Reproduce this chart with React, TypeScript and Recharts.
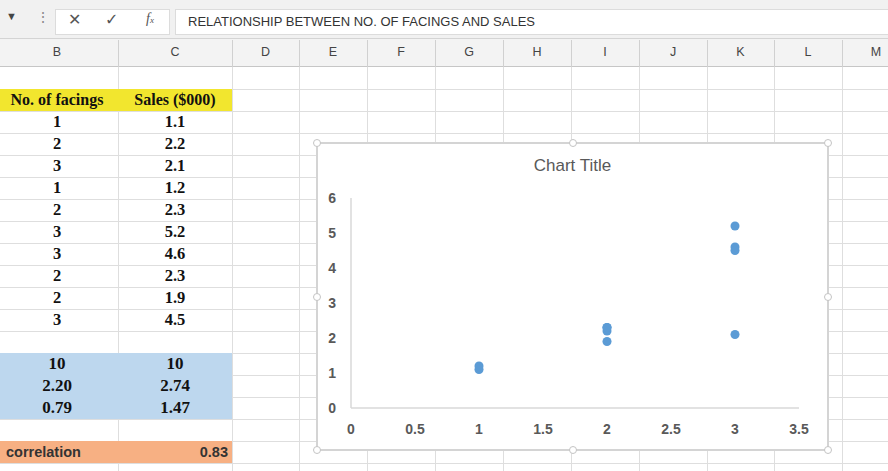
import React from "react";
import { ScatterChart, Scatter, XAxis, YAxis, ZAxis } from "recharts";

const facings = [1, 2, 3, 1, 2, 3, 3, 2, 2, 3];
const sales = [1.1, 2.2, 2.1, 1.2, 2.3, 5.2, 4.6, 2.3, 1.9, 4.5];
const summaryFacings = ["10", "2.20", "0.79"];
const summarySales = ["10", "2.74", "1.47"];
const correlationLabel = "correlation";
const correlationValue = "0.83";
const formulaText = "RELATIONSHIP BETWEEN NO. OF FACINGS AND SALES";
const columnLetters = ["B", "C", "D", "E", "F", "G", "H", "I", "J", "K", "L", "M"];
const xTicks = [0, 0.5, 1, 1.5, 2, 2.5, 3, 3.5];
const yTicks = [0, 1, 2, 3, 4, 5, 6];
const chartTitle = "Chart Title";

const colBounds = [-4, 118, 232, 299, 367, 435, 503, 571, 639, 707, 774, 842, 910];
const rowTop0 = 67;
const rowH = 22;
const gridColor = "#dedede";
const serif = "'Liberation Serif', 'Times New Roman', serif";
const sans = "'Liberation Sans', Arial, sans-serif";

const points = facings.map((f, i) => ({ x: f, y: sales[i] }));

function Cell({ row, col, text, align = "center", font = serif, weight = "bold", size = 16.5, color = "#111" }: any) {
  const left = colBounds[col];
  const right = colBounds[col + 1];
  const padL = align === "left" ? 10 : 0;
  const padR = align === "right" ? 4 : 0;
  return (
    <div
      style={{
        position: "absolute",
        left: left + padL,
        width: right - left - padL - padR,
        top: rowTop0 + row * rowH,
        height: rowH,
        lineHeight: rowH + "px",
        textAlign: align,
        fontFamily: font,
        fontWeight: weight,
        fontSize: size,
        color,
        whiteSpace: "nowrap",
      }}
    >
      {text}
    </div>
  );
}

export default function App() {
  const handles = [
    [317, 143], [573, 143], [828, 143],
    [317, 297], [828, 297],
    [317, 450], [573, 450], [828, 450],
  ];
  return (
    <div style={{ position: "absolute", left: 0, top: 0, width: 888, height: 471, overflow: "hidden", background: "#fff" }}>
      {/* formula bar */}
      <div style={{ position: "absolute", left: 0, top: 0, width: 888, height: 38, background: "#f1f1f1" }} />
      <div style={{ position: "absolute", left: 6, top: 10, fontFamily: sans, fontSize: 11, color: "#444" }}>▼</div>
      <div style={{ position: "absolute", left: 36, top: 9, fontFamily: sans, fontSize: 14, color: "#888" }}>⋮</div>
      <div style={{ position: "absolute", left: 55, top: 9, width: 115, height: 26, background: "#fff", border: "1px solid #dcdcdc", boxSizing: "border-box" }} />
      <div style={{ position: "absolute", left: 68, top: 10, fontFamily: "'DejaVu Sans', sans-serif", fontSize: 16, color: "#555" }}>✕</div>
      <div style={{ position: "absolute", left: 105, top: 10, fontFamily: "'DejaVu Sans', sans-serif", fontSize: 16, color: "#555" }}>✓</div>
      <div style={{ position: "absolute", left: 146, top: 11, fontFamily: serif, fontStyle: "italic", fontSize: 14, color: "#555" }}>
        f<span style={{ fontSize: 9 }}>x</span>
      </div>
      <div style={{ position: "absolute", left: 175, top: 9, width: 720, height: 26, background: "#fff", border: "1px solid #dcdcdc", boxSizing: "border-box" }} />
      <div style={{ position: "absolute", left: 188, top: 14, fontFamily: sans, fontSize: 13, color: "#333" }}>{formulaText}</div>

      {/* column headers */}
      <div style={{ position: "absolute", left: 0, top: 38, width: 888, height: 29, background: "#f3f3f3", borderBottom: "1px solid #c6c6c6", borderTop: "1px solid #d4d4d4", boxSizing: "border-box" }} />
      {columnLetters.map((c, i) => (
        <div key={c} style={{ position: "absolute", left: colBounds[i], width: colBounds[i + 1] - colBounds[i], top: 38, height: 29, lineHeight: "29px", textAlign: "center", fontFamily: sans, fontSize: 12.5, color: "#444" }}>
          {c}
        </div>
      ))}
      {colBounds.slice(1, -1).map((x) => (
        <div key={"h" + x} style={{ position: "absolute", left: x, top: 40, width: 1, height: 27, background: "#d0d0d0" }} />
      ))}

      {/* grid */}
      {colBounds.slice(1, -1).map((x) => (
        <div key={"v" + x} style={{ position: "absolute", left: x, top: 67, width: 1, height: 410, background: gridColor }} />
      ))}
      {Array.from({ length: 19 }).map((_, k) => (
        <div key={"r" + k} style={{ position: "absolute", left: 0, top: rowTop0 + rowH * (k + 1), width: 888, height: 1, background: gridColor }} />
      ))}

      {/* fills */}
      <div style={{ position: "absolute", left: 0, top: rowTop0 + rowH, width: 232, height: rowH, background: "#f2e62e" }} />
      <div style={{ position: "absolute", left: 0, top: rowTop0 + rowH * 13, width: 232, height: rowH * 3, background: "#bdd7ee" }} />
      <div style={{ position: "absolute", left: 0, top: rowTop0 + rowH * 17, width: 232, height: rowH, background: "#f7b083" }} />

      {/* table */}
      <Cell row={1} col={0} text="No. of facings" size={16} />
      <Cell row={1} col={1} text="Sales ($000)" size={16} />
      {facings.map((f, i) => (
        <React.Fragment key={"d" + i}>
          <Cell row={2 + i} col={0} text={String(f)} />
          <Cell row={2 + i} col={1} text={sales[i].toFixed(1)} />
        </React.Fragment>
      ))}
      {summaryFacings.map((v, i) => (
        <React.Fragment key={"s" + i}>
          <Cell row={13 + i} col={0} text={v} size={17} />
          <Cell row={13 + i} col={1} text={summarySales[i]} size={17} />
        </React.Fragment>
      ))}
      <Cell row={17} col={0} text={correlationLabel} align="left" font={sans} weight="bold" size={14.5} color="#333" />
      <Cell row={17} col={1} text={correlationValue} align="right" font={sans} weight="bold" size={14.5} color="#333" />

      {/* chart */}
      <div style={{ position: "absolute", left: 316, top: 142, width: 513, height: 309, background: "#fff", border: "2px solid #d4d4d4", boxSizing: "border-box" }} />
      <div style={{ position: "absolute", left: 317, width: 511, top: 156, textAlign: "center", fontFamily: sans, fontSize: 17, color: "#595959" }}>{chartTitle}</div>
      <div style={{ position: "absolute", left: 317, top: 143 }}>
        <ScatterChart width={511} height={307} margin={{ top: 55, right: 29, bottom: 12, left: 0 }}>
          <XAxis
            type="number"
            dataKey="x"
            domain={[0, 3.5]}
            ticks={xTicks}
            interval={0}
            height={30}
            tickLine={false}
            tickSize={0}
            tickMargin={16}
            axisLine={{ stroke: "#d9d9d9", strokeWidth: 1.5 }}
            tick={{ fontFamily: sans, fontSize: 14, fontWeight: "bold", fill: "#595959" }}
          />
          <YAxis
            type="number"
            dataKey="y"
            domain={[0, 6]}
            ticks={yTicks}
            interval={0}
            width={34}
            tickLine={false}
            tickSize={0}
            tickMargin={15}
            axisLine={{ stroke: "#d9d9d9", strokeWidth: 1.5 }}
            tick={{ fontFamily: sans, fontSize: 14, fontWeight: "bold", fill: "#595959" }}
          />
          <ZAxis range={[40, 40]} />
          <Scatter data={points} fill="#5b9bd5" isAnimationActive={false} />
        </ScatterChart>
      </div>
      {handles.map(([x, y], i) => (
        <div key={"hd" + i} style={{ position: "absolute", left: x - 4, top: y - 4, width: 8, height: 8, borderRadius: 4, background: "#fff", border: "1px solid #c4c4c4", boxSizing: "border-box" }} />
      ))}
    </div>
  );
}
